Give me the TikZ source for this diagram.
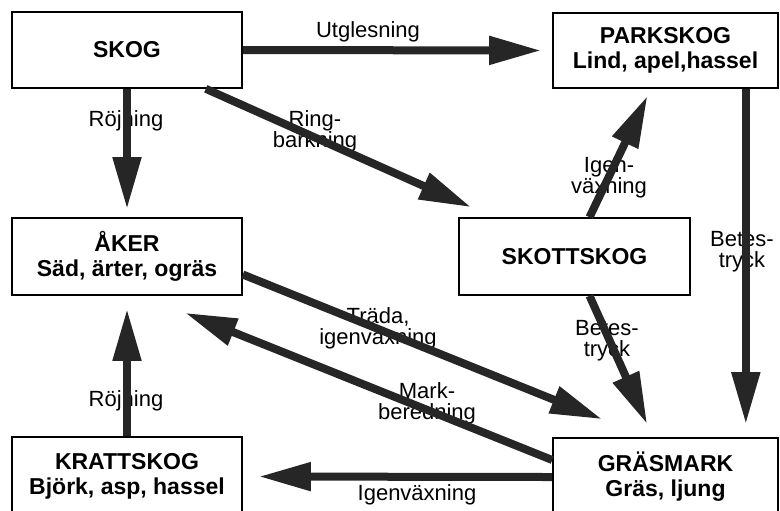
\documentclass[tikz,border=0pt]{standalone}
\usepackage{fontspec}
\setmainfont{Liberation Sans}
\usepackage{tikz}
\usetikzlibrary{calc}
\usetikzlibrary{arrows.meta}
\tikzstyle{statebox}=[black, draw=black, line width=0.8pt, shape=rectangle, fill=white, align=center, inner sep=0pt, font=\fontsize{11.5}{12.5}\selectfont\bfseries]
\tikzstyle{proclabel}=[black, shape=rectangle, inner sep=0pt, align=center, font=\fontsize{11}{10.5}\selectfont]
\tikzstyle{flowarrow}=[-{Triangle[length=26pt, width=13.5pt]}, line width=4pt, color=black!85]

\begin{document}
\begin{tikzpicture}[x=0.5pt, y=-0.5pt]
\useasboundingbox (0,0) rectangle (780,510);
\node [statebox, minimum width=115pt, minimum height=38pt] (skog) at (127,50) {SKOG};
\node [statebox, minimum width=112.5pt, minimum height=37.5pt] (park) at (665.5,50.5) {PARKSKOG\\Lind, apel,hassel};
\node [statebox, minimum width=115pt, minimum height=38.5pt] (aker) at (127,256.5) {ÅKER\\Säd, ärter, ogräs};
\node [statebox, minimum width=115.5pt, minimum height=38.5pt] (skott) at (574.5,256.5) {SKOTTSKOG};
\node [statebox, minimum width=115pt, minimum height=39.5pt] (kratt) at (127,476.5) {KRATTSKOG\\Björk, asp, hassel};
\node [statebox, minimum width=112.5pt, minimum height=39pt] (gras) at (665.5,477) {GRÄSMARK\\Gräs, ljung};

\node [proclabel] (utgl) at (368,32) {Utglesning};
\node [proclabel] (rojn1) at (126,121) {Röjning};
\node [proclabel] (ringb) at (315,131) {Ring-\\barkning};
\node [proclabel] (igenv1) at (609,178) {Igen-\\växning};
\node [proclabel] (betes1) at (742,252) {Betes-\\tryck};
\node [proclabel] (betes2) at (607,341) {Betes-\\tryck};
\node [proclabel] (trada) at (378,328) {Träda,\\igenväxning};
\node [proclabel] (markb) at (427,403) {Mark-\\beredning};
\node [proclabel] (rojn2) at (126,401) {Röjning};
\node [proclabel] (igenv2) at (417,495) {Igenväxning};

\draw[flowarrow, shorten >=5.5pt] (skog.east) -- (park.west);
\draw[flowarrow, shorten >=4pt] (skog.south) -- (aker.north);
\draw[flowarrow] ($(skog.south east)+(-37,0)$) -- ($(skott.north west)+(13,-10)$);
\draw[flowarrow] ($(skott.north)+(15,0)$) -- ($(park.south)+(-18,7)$);
\draw[flowarrow] ($(park.south east)+(-33,0)$) -- ($(gras.north east)+(-33,-13)$);
\draw[flowarrow] ($(skott.south)+(15,0)$) -- ($(gras.north west)+(95,-13)$);
\draw[flowarrow] ($(aker.east)+(0,18)$) -- ($(gras.north west)+(50,-18)$);
\draw[flowarrow] ($(gras.west)+(0,-17)$) -- ($(aker.south)+(58,17)$);
\draw[flowarrow, shorten >=8pt] (gras.west) -- (kratt.east);
\draw[flowarrow, shorten >=6.5pt] (kratt.north) -- (aker.south);
\end{tikzpicture}
\end{document}
